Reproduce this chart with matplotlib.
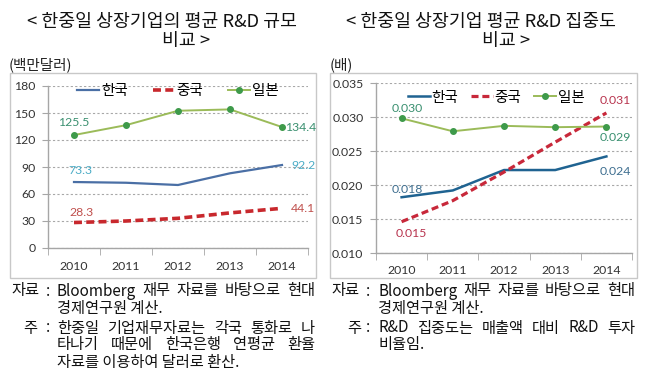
import matplotlib
matplotlib.use('Agg')
import matplotlib.pyplot as plt
from matplotlib.patches import Rectangle

plt.rcParams['font.family'] = ['Noto Sans CJK KR', 'DejaVu Sans']

W, H = 661, 376
DPI = 100

# ---------------- data ----------------
years = ['2010', '2011', '2012', '2013', '2014']
series_names = ['한국', '중국', '일본']

rd_korea = [73.3, 72.5, 70.0, 83.0, 92.2]
rd_china = [28.3, 30.0, 33.0, 39.0, 44.1]
rd_japan = [125.5, 136.5, 152.5, 154.0, 134.4]
rd_yticks = [0, 30, 60, 90, 120, 150, 180]

int_korea = [0.0182, 0.0192, 0.0222, 0.0222, 0.0242]
int_china = [0.0146, 0.0177, 0.0219, 0.0263, 0.0306]
int_japan = [0.0298, 0.0279, 0.0287, 0.0285, 0.0286]
int_yticks = [0.010, 0.015, 0.020, 0.025, 0.030, 0.035]

fig = plt.figure(figsize=(W / DPI, H / DPI), dpi=DPI)
fig.patch.set_facecolor('white')


def fx(x):
    return x / W


def fy(y):
    return 1 - y / H


def make_axes(x0, x1, y0, y1):
    return fig.add_axes([fx(x0), fy(y1), fx(x1) - fx(x0), fy(y0) - fy(y1)])


# outer boxes
for (x0, y0, x1, y1) in [(10, 73, 316, 278), (330, 73, 637, 278)]:
    fig.add_artist(Rectangle((fx(x0), fy(y1)), fx(x1) - fx(x0), fy(y0) - fy(y1),
                             transform=fig.transFigure, fill=False,
                             edgecolor='#C8C8C8', lw=1.0))

NUM = ['Lato', 'DejaVu Sans']


def style_axes(ax, yticks, fmt):
    x = list(range(len(years)))
    ax.set_xlim(-0.5, len(years) - 0.5)
    ax.set_ylim(yticks[0], yticks[-1])
    ax.set_xticks(x)
    ax.set_xticklabels(years, family=NUM, fontsize=8.8, color='#333333')
    ax.set_xticks([i - 0.5 for i in range(len(years) + 1)], minor=True)
    ax.tick_params(axis='x', which='major', length=0, pad=9)
    ax.tick_params(axis='x', which='minor', length=5, color='#A6A6A6', direction='out')
    ax.set_yticks(yticks)
    ax.set_yticklabels([fmt.format(v) for v in yticks], family=NUM, fontsize=8.8, color='#333333')
    ax.tick_params(axis='y', length=4, color='#A6A6A6', direction='out', pad=5)
    for s in ['top', 'right']:
        ax.spines[s].set_visible(False)
    for s in ['left', 'bottom']:
        ax.spines[s].set_color('#A6A6A6')
        ax.spines[s].set_linewidth(1.0)
    ax.yaxis.grid(True, color='#A8A8A8', lw=0.8, linestyle=(0, (2, 2)))
    ax.set_axisbelow(True)
    ax.set_facecolor('white')


# ---------------- left chart ----------------
axL = make_axes(48, 308, 86, 248)
style_axes(axL, rd_yticks, '{:d}')
xs = list(range(len(years)))
axL.plot(xs, rd_korea, color='#4A6FA5', lw=1.6, label=series_names[0])
axL.plot(xs, rd_china, color='#C8282D', lw=2.6, linestyle=(0, (2.2, 1.2)), label=series_names[1])
axL.plot(xs, rd_japan, color='#9BBB59', lw=1.4, marker='o', markersize=4,
         markerfacecolor='#3E9A4A', markeredgecolor='#3E9A4A', label=series_names[2])

K = 0.72  # px -> pt


def lab(ax, x, y, txt, dx, dy, color, ha='center'):
    ax.annotate(txt, (x, y), xytext=(dx * K, dy * K), textcoords='offset points',
                ha=ha, va='center', fontsize=8.8, family=NUM, color=color)


lab(axL, 0, rd_japan[0], f'{rd_japan[0]:.1f}', 0, 13, '#3A9070')
lab(axL, 4, rd_japan[-1], f'{rd_japan[-1]:.1f}', 3, 0, '#3A9070', ha='left')
lab(axL, 0, rd_korea[0], f'{rd_korea[0]:.1f}', 6, 12, '#4BACC6')
lab(axL, 4, rd_korea[-1], f'{rd_korea[-1]:.1f}', 9, 0, '#4BACC6', ha='left')
lab(axL, 0, rd_china[0], f'{rd_china[0]:.1f}', 8, 10, '#C0504D')
lab(axL, 4, rd_china[-1], f'{rd_china[-1]:.1f}', 9, 0, '#C0504D', ha='left')

axL.legend(loc='upper center', bbox_to_anchor=(0.5, 1.05), ncol=3, frameon=False,
           fontsize=10.5, handlelength=1.5, handletextpad=0.15, columnspacing=1.7,
           borderaxespad=0)

# ---------------- right chart ----------------
axR = make_axes(376, 632, 83, 253)
style_axes(axR, int_yticks, '{:.3f}')
axR.plot(xs, int_korea, color='#1F6391', lw=1.8, label=series_names[0])
axR.plot(xs, int_china, color='#C8283A', lw=2.3, linestyle=(0, (2.2, 1.2)), label=series_names[1])
axR.plot(xs, int_japan, color='#9BBB59', lw=1.4, marker='o', markersize=4,
         markerfacecolor='#3E9A4A', markeredgecolor='#3E9A4A', label=series_names[2])

lab(axR, 0, int_japan[0], f'{int_japan[0]:.3f}', 6, 10, '#3A9070')
lab(axR, 4, int_china[-1], f'{int_china[-1]:.3f}', 9, 12, '#B8344E')
lab(axR, 4, int_japan[-1], f'{int_japan[-1]:.3f}', 9, -11, '#3A9070')
lab(axR, 4, int_korea[-1], f'{int_korea[-1]:.3f}', 9, -15, '#3F6F90')
lab(axR, 0, int_korea[0], f'{int_korea[0]:.3f}', 6, 8, '#3F6F90')
lab(axR, 0, int_china[0], f'{int_china[0]:.3f}', 10, -12, '#B8344E')

axR.legend(loc='upper center', bbox_to_anchor=(0.47, 0.99), ncol=3, frameon=False,
           fontsize=10.5, handlelength=1.5, handletextpad=0.1, columnspacing=0.9,
           borderaxespad=0)

# ---------------- titles ----------------
TFS = 13.2
fig.text(fx(162), fy(22), '< 한중일 상장기업의 평균 R&D 규모', ha='center', va='center',
         fontsize=TFS, color='#111111')
fig.text(fx(186), fy(41), '비교 >', ha='center', va='center', fontsize=TFS, color='#111111')
fig.text(fx(481), fy(22), '< 한중일 상장기업 평균 R&D 집중도', ha='center', va='center',
         fontsize=TFS, color='#111111')
fig.text(fx(506), fy(41), '비교 >', ha='center', va='center', fontsize=TFS, color='#111111')

fig.text(fx(9), fy(65), '(백만달러)', ha='left', va='center', fontsize=10.5, color='#222222')
fig.text(fx(330), fy(65), '(배)', ha='left', va='center', fontsize=10.5, color='#222222')

# ---------------- footnotes ----------------
FFS = 11
renderer = fig.canvas.get_renderer()


def put(x, y, s):
    return fig.text(fx(x), fy(y), s, ha='left', va='center', fontsize=FFS, color='#111111')


def justify(x0, x1, y, line):
    words = line.split(' ')
    ts = [put(0, y, w) for w in words]
    ws = [t.get_window_extent(renderer).width for t in ts]
    gap = (x1 - x0 - sum(ws)) / max(len(words) - 1, 1)
    x = x0
    for t, w in zip(ts, ws):
        t.set_x(fx(x))
        x += w + gap


# left
put(11, 291, '자료')
put(46, 291, ':')
justify(57, 315, 291, 'Bloomberg 재무 자료를 바탕으로 현대')
put(57, 308, '경제연구원 계산.')
put(23, 328, '주')
put(46, 328, ':')
justify(57, 315, 328, '한중일 기업재무자료는 각국 통화로 나')
justify(57, 315, 345, '타나기 때문에 한국은행 연평균 환율')
put(57, 362, '자료를 이용하여 달러로 환산.')

# right
put(331, 291, '자료')
put(366, 291, ':')
justify(378, 635, 291, 'Bloomberg 재무 자료를 바탕으로 현대')
put(378, 308, '경제연구원 계산.')
put(347, 328, '주')
put(366, 328, ':')
justify(378, 635, 328, 'R&D 집중도는 매출액 대비 R&D 투자')
put(378, 345, '비율임.')

fig.savefig('out.png', dpi=DPI)
